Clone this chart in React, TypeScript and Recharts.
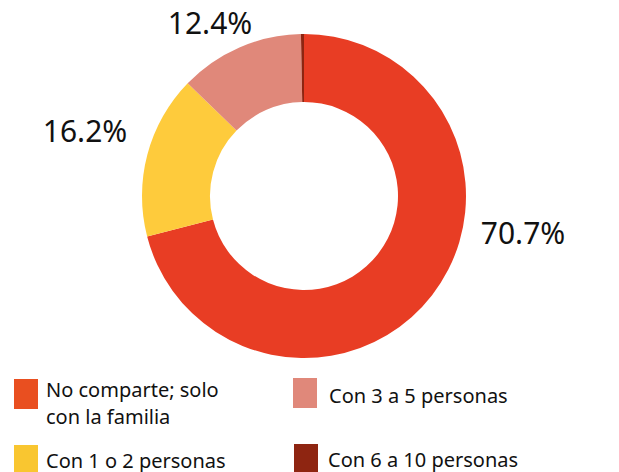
import React from "react";
import { PieChart, Pie, Cell } from "recharts";

const categories = ["No comparte; solo con la familia", "Con 1 o 2 personas", "Con 3 a 5 personas", "Con 6 a 10 personas"];
const values = [70.7, 16.2, 12.4, 0.3];
const labelTexts = ["70.7%", "16.2%", "12.4%", ""];
const colors = ["#E83D24", "#FECB3C", "#E0887A", "#8E2511"];
const legendColors = ["#E94F20", "#F9C630", "#E0887A", "#8E2511"];

const data = categories.map((name, i) => ({ name, value: values[i] }));

// label offsets from the pie centre (px)
const labelOffsets: [number, number][] = [
  [219, 36],
  [-219, -66],
  [-94, -174],
  [0, 0],
];

const FONT = "'Noto Sans', sans-serif";

const renderLabel = (props: any) => {
  const { cx, cy, index } = props;
  const t = labelTexts[index];
  if (!t) return null;
  const [dx, dy] = labelOffsets[index];
  return (
    <text
      x={cx + dx}
      y={cy + dy}
      textAnchor="middle"
      dominantBaseline="central"
      fill="#111"
      fontSize={30}
      fontFamily={FONT}
    >
      {t}
    </text>
  );
};

const legendLayout = [
  { left: 14, top: 379, textLeft: 46, textTop: 376 },
  { left: 14, top: 445, textLeft: 46, textTop: 447 },
  { left: 293, top: 378, textLeft: 329, textTop: 382 },
  { left: 294, top: 444, textLeft: 328, textTop: 446 },
];
const legendLines = [["No comparte; solo", "con la familia"], ["Con 1 o 2 personas"], ["Con 3 a 5 personas"], ["Con 6 a 10 personas"]];

export default function App() {
  return (
    <div style={{ position: "absolute", left: 0, top: 0, width: 619, height: 472, background: "#fff", overflow: "hidden" }}>
      <PieChart width={619} height={472} margin={{ top: 0, right: 0, bottom: 0, left: 0 }}>
        <Pie
          data={data}
          dataKey="value"
          cx={304}
          cy={196}
          outerRadius={162}
          innerRadius={94}
          startAngle={90}
          endAngle={-270}
          stroke="none"
          label={renderLabel}
          labelLine={false}
          isAnimationActive={false}
        >
          {data.map((d, i) => (
            <Cell key={d.name} fill={colors[i]} />
          ))}
        </Pie>
      </PieChart>
      {legendLayout.map((l, i) => (
        <React.Fragment key={i}>
          <div style={{ position: "absolute", left: l.left, top: l.top, width: 24, height: 30, background: legendColors[i] }} />
          <div
            style={{
              position: "absolute",
              left: l.textLeft,
              top: l.textTop,
              fontFamily: FONT,
              fontSize: 20,
              lineHeight: "27px",
              color: "#111",
              whiteSpace: "nowrap",
            }}
          >
            {legendLines[i].map((ln, j) => (
              <div key={j}>{ln}</div>
            ))}
          </div>
        </React.Fragment>
      ))}
    </div>
  );
}
